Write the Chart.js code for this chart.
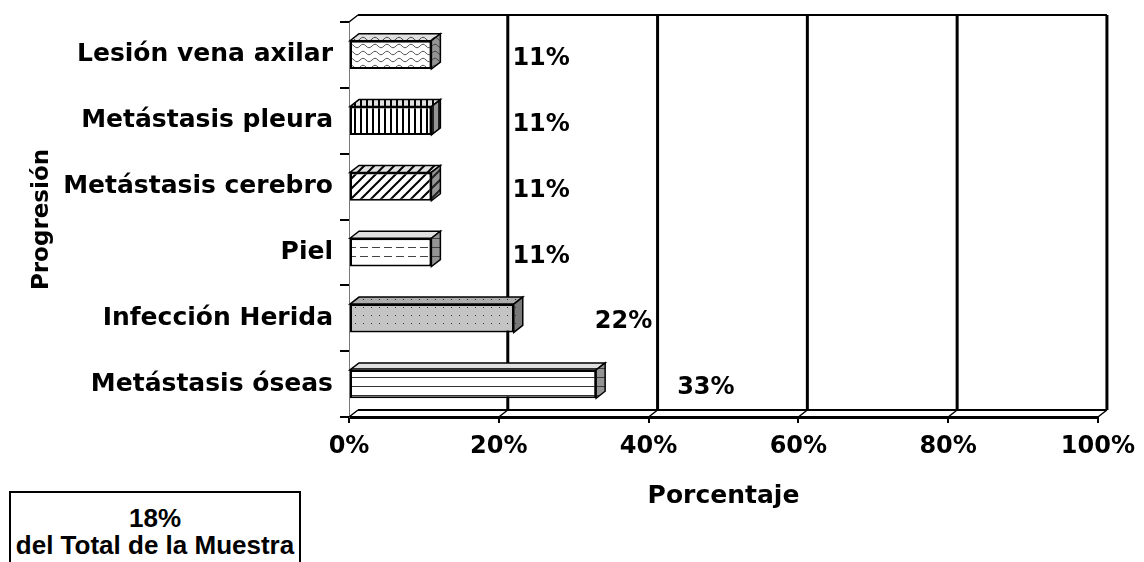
<!DOCTYPE html>
<html>
<head>
<meta charset="utf-8">
<script src="https://cdn.jsdelivr.net/npm/chart.js@4"></script>
<style>
  body { margin: 0; background: #fff; }
  #contenedor { position: relative; width: 1144px; height: 562px; overflow: hidden; }
  #nota {
    position: absolute; left: 9px; top: 491px; width: 292px; height: 90px;
    border: 2px solid #000; box-sizing: border-box; background: #fff;
    font: bold 26px "Liberation Sans", Arial, sans-serif;
    text-align: center; line-height: 27px; padding-top: 12px;
  }
</style>
</head>
<body>
<div id="contenedor">
  <canvas id="grafica" width="1144" height="562"></canvas>
  <div id="nota">18%<br>del Total de la Muestra</div>
</div>
<script>
let categorias = ["Lesión vena axilar", "Metástasis pleura", "Metástasis cerebro", "Piel", "Infección Herida", "Metástasis óseas"];
let porcentajes = [11, 11, 11, 11, 22, 33];
let etiquetas = ["11%", "11%", "11%", "11%", "22%", "33%"];
let ticksX = [0, 20, 40, 60, 80, 100];
let tramas = ["ondas", "vertical", "diagonal", "guiones", "puntos", "lineas"];

// profundidad del efecto 3D
let prof = { dx: 9, dy: -7 };

function crearTrama(tipo) {
  let c = document.createElement("canvas");
  let g = c.getContext("2d");
  if (tipo === "ondas") {
    c.width = 12; c.height = 7;
    g.fillStyle = "#fff"; g.fillRect(0, 0, 12, 7);
    g.strokeStyle = "#555"; g.lineWidth = 1;
    g.beginPath();
    g.moveTo(0, 4); g.quadraticCurveTo(3, 0.5, 6, 4); g.quadraticCurveTo(9, 7.5, 12, 4);
    g.stroke();
  } else if (tipo === "vertical") {
    c.width = 6; c.height = 6;
    g.fillStyle = "#fff"; g.fillRect(0, 0, 6, 6);
    g.fillStyle = "#000"; g.fillRect(0, 0, 2, 6);
  } else if (tipo === "diagonal") {
    c.width = 10; c.height = 10;
    g.fillStyle = "#fff"; g.fillRect(0, 0, 10, 10);
    g.strokeStyle = "#000"; g.lineWidth = 2;
    g.beginPath();
    g.moveTo(0, 10); g.lineTo(10, 0);
    g.moveTo(-5, 5); g.lineTo(5, -5);
    g.moveTo(5, 15); g.lineTo(15, 5);
    g.stroke();
  } else if (tipo === "guiones") {
    c.width = 12; c.height = 9;
    g.fillStyle = "#fff"; g.fillRect(0, 0, 12, 9);
    g.fillStyle = "#444"; g.fillRect(0, 4, 8, 1);
  } else if (tipo === "puntos") {
    c.width = 8; c.height = 8;
    g.fillStyle = "#c4c4c4"; g.fillRect(0, 0, 8, 8);
    g.fillStyle = "#333"; g.fillRect(3, 3, 1, 1);
  } else {
    c.width = 10; c.height = 9;
    g.fillStyle = "#fff"; g.fillRect(0, 0, 10, 9);
    g.fillStyle = "#333"; g.fillRect(0, 8, 10, 1);
  }
  return g.createPattern(c, "repeat");
}

let rellenos = tramas.map(crearTrama);

const caja3d = {
  id: "caja3d",
  beforeDatasetsDraw(chart) {
    const { ctx, chartArea: a, scales: { x } } = chart;
    ctx.save();
    ctx.strokeStyle = "#000";
    // lineas de la pared del fondo
    ctx.lineWidth = 3;
    ticksX.forEach(v => {
      if (v === 0) return;
      let px = x.getPixelForValue(v) + prof.dx;
      ctx.beginPath();
      ctx.moveTo(px, a.top + prof.dy);
      ctx.lineTo(px, a.bottom + prof.dy);
      ctx.stroke();
    });
    // borde superior y piso
    ctx.lineWidth = 2;
    ctx.beginPath();
    ctx.moveTo(a.left + prof.dx, a.top + prof.dy);
    ctx.lineTo(a.right + prof.dx, a.top + prof.dy);
    ctx.moveTo(a.left + prof.dx, a.bottom + prof.dy);
    ctx.lineTo(a.right + prof.dx, a.bottom + prof.dy);
    ctx.stroke();
    ctx.lineWidth = 1.5;
    ctx.beginPath();
    ctx.moveTo(a.left, a.top);
    ctx.lineTo(a.left + prof.dx, a.top + prof.dy);
    ticksX.forEach(v => {
      let px = x.getPixelForValue(v);
      ctx.moveTo(px, a.bottom);
      ctx.lineTo(px + prof.dx, a.bottom + prof.dy);
    });
    ctx.stroke();
    ctx.restore();
  },
  afterDatasetsDraw(chart) {
    const ctx = chart.ctx;
    const meta = chart.getDatasetMeta(0);
    ctx.save();
    meta.data.forEach((el, i) => {
      const p = el.getProps(["x", "y", "base", "height"], true);
      const arriba = p.y - p.height / 2;
      const abajo = p.y + p.height / 2;
      // cara superior
      ctx.beginPath();
      ctx.moveTo(p.base, arriba);
      ctx.lineTo(p.base + prof.dx, arriba + prof.dy);
      ctx.lineTo(p.x + prof.dx, arriba + prof.dy);
      ctx.lineTo(p.x, arriba);
      ctx.closePath();
      ctx.fillStyle = rellenos[i];
      ctx.fill();
      ctx.fillStyle = "rgba(0,0,0,0.12)";
      ctx.fill();
      ctx.strokeStyle = "#000";
      ctx.lineWidth = 1.5;
      ctx.stroke();
      // cara lateral
      ctx.beginPath();
      ctx.moveTo(p.x, arriba);
      ctx.lineTo(p.x + prof.dx, arriba + prof.dy);
      ctx.lineTo(p.x + prof.dx, abajo + prof.dy);
      ctx.lineTo(p.x, abajo);
      ctx.closePath();
      ctx.fillStyle = rellenos[i];
      ctx.fill();
      ctx.fillStyle = "rgba(60,60,60,0.55)";
      ctx.fill();
      ctx.stroke();
      // etiqueta de valor
      ctx.fillStyle = "#000";
      ctx.font = "bold 24px 'DejaVu Sans', sans-serif";
      ctx.textAlign = "left";
      ctx.textBaseline = "middle";
      ctx.fillText(etiquetas[i], p.x + 81, p.y + 4);
    });
    ctx.restore();
  }
};

new Chart("grafica", {
  type: "bar",
  data: {
    labels: categorias,
    datasets: [
      {
        data: porcentajes,
        backgroundColor: rellenos,
        borderColor: "#000",
        borderWidth: 2,
        borderSkipped: false,
        barPercentage: 0.43,
        categoryPercentage: 1,
      },
    ],
  },
  plugins: [caja3d],
  options: {
    indexAxis: "y",
    responsive: false,
    animation: false,
    layout: { padding: { top: 17, right: 44, bottom: 47, left: 0 } },
    plugins: {
      legend: { display: false },
      tooltip: { enabled: false },
    },
    scales: {
      x: {
        min: 0,
        max: 100,
        afterBuildTicks: s => { s.ticks = ticksX.map(v => ({ value: v })); },
        afterFit: s => { s.height = 98; },
        ticks: {
          callback: v => v + "%",
          color: "#000",
          padding: 9,
          maxRotation: 0,
          font: { family: "DejaVu Sans", size: 24, weight: "bold" },
        },
        grid: { drawOnChartArea: false, color: "#000", lineWidth: 2, tickLength: 6 },
        border: { display: true, color: "#000", width: 3 },
        title: {
          display: true,
          text: "Porcentaje",
          color: "#000",
          padding: { top: 4, bottom: 4 },
          font: { family: "DejaVu Sans", size: 25, weight: "bold" },
        },
      },
      y: {
        afterFit: s => { s.width = 349; },
        ticks: {
          color: "#000",
          padding: 7,
          font: { family: "DejaVu Sans", size: 25, weight: "bold" },
        },
        grid: { drawOnChartArea: false, offset: true, color: "#000", lineWidth: 2, tickLength: 9 },
        border: { display: true, color: "#777", width: 1 },
        title: {
          display: true,
          text: "Progresión",
          color: "#000",
          padding: { top: 28, bottom: 0 },
          font: { family: "DejaVu Sans", size: 23, weight: "bold" },
        },
      },
    },
  },
});
</script>
</body>
</html>
